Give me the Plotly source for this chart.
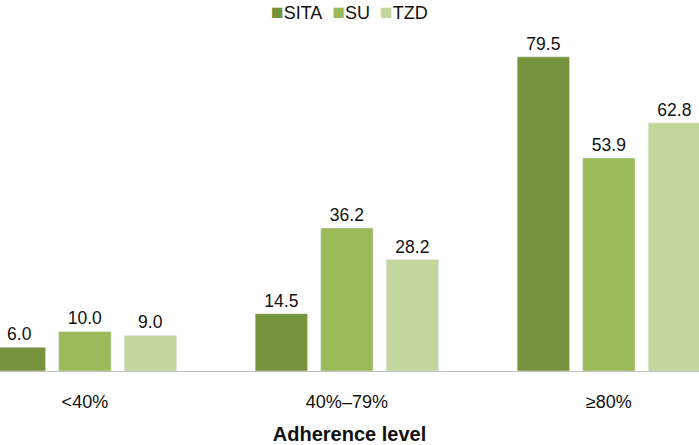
import plotly.graph_objects as go

categories = ["<40%", "40%–79%", "≥80%"]
series_names = ["SITA", "SU", "TZD"]
sita = [6.0, 14.5, 79.5]
su = [10.0, 36.2, 53.9]
tzd = [9.0, 28.2, 62.8]
colors = ["#77933C", "#9BBB59", "#C3D69B"]

fig = go.Figure()
for name, vals, col in zip(series_names, [sita, su, tzd], colors):
    fig.add_trace(go.Bar(
        x=categories, y=vals, name=name, marker_color=col,
        text=[f"{v:.1f}" for v in vals], textposition="outside",
        textfont=dict(size=17.5, color="#111111"), cliponaxis=False,
        showlegend=False,
    ))

legend_text = "&nbsp;&nbsp;".join(
    f"<span style='color:{c};font-size:21px'>■</span>{n}" for n, c in zip(series_names, colors)
)
fig.add_annotation(
    text=legend_text, x=0.5, xref="paper", y=1.0, yref="paper", yshift=19,
    showarrow=False, font=dict(size=18, color="#111111"),
    xanchor="center", yanchor="middle",
)

fig.update_layout(
    width=699, height=445,
    margin=dict(l=0, r=0, t=30, b=74, autoexpand=False),
    paper_bgcolor="white", plot_bgcolor="white",
    barmode="group", bargap=0.25, bargroupgap=0.2,
    font=dict(family="Liberation Sans, Arial, sans-serif", size=18, color="#111111"),
    xaxis=dict(range=[-0.324, 2.344], showline=True, linecolor="#c0c0c0", linewidth=1,
               ticks="outside", ticklen=14, tickcolor="rgba(0,0,0,0)",
               tickfont=dict(size=18), automargin=False,
               title=dict(text="<b>Adherence level</b>", font=dict(size=20), standoff=18)),
    yaxis=dict(range=[0, 86.3], visible=False, showgrid=False, automargin=False),
)
fig.write_html("out.html", config={"displayModeBar": False},
               post_script="document.body.style.margin='0';")
